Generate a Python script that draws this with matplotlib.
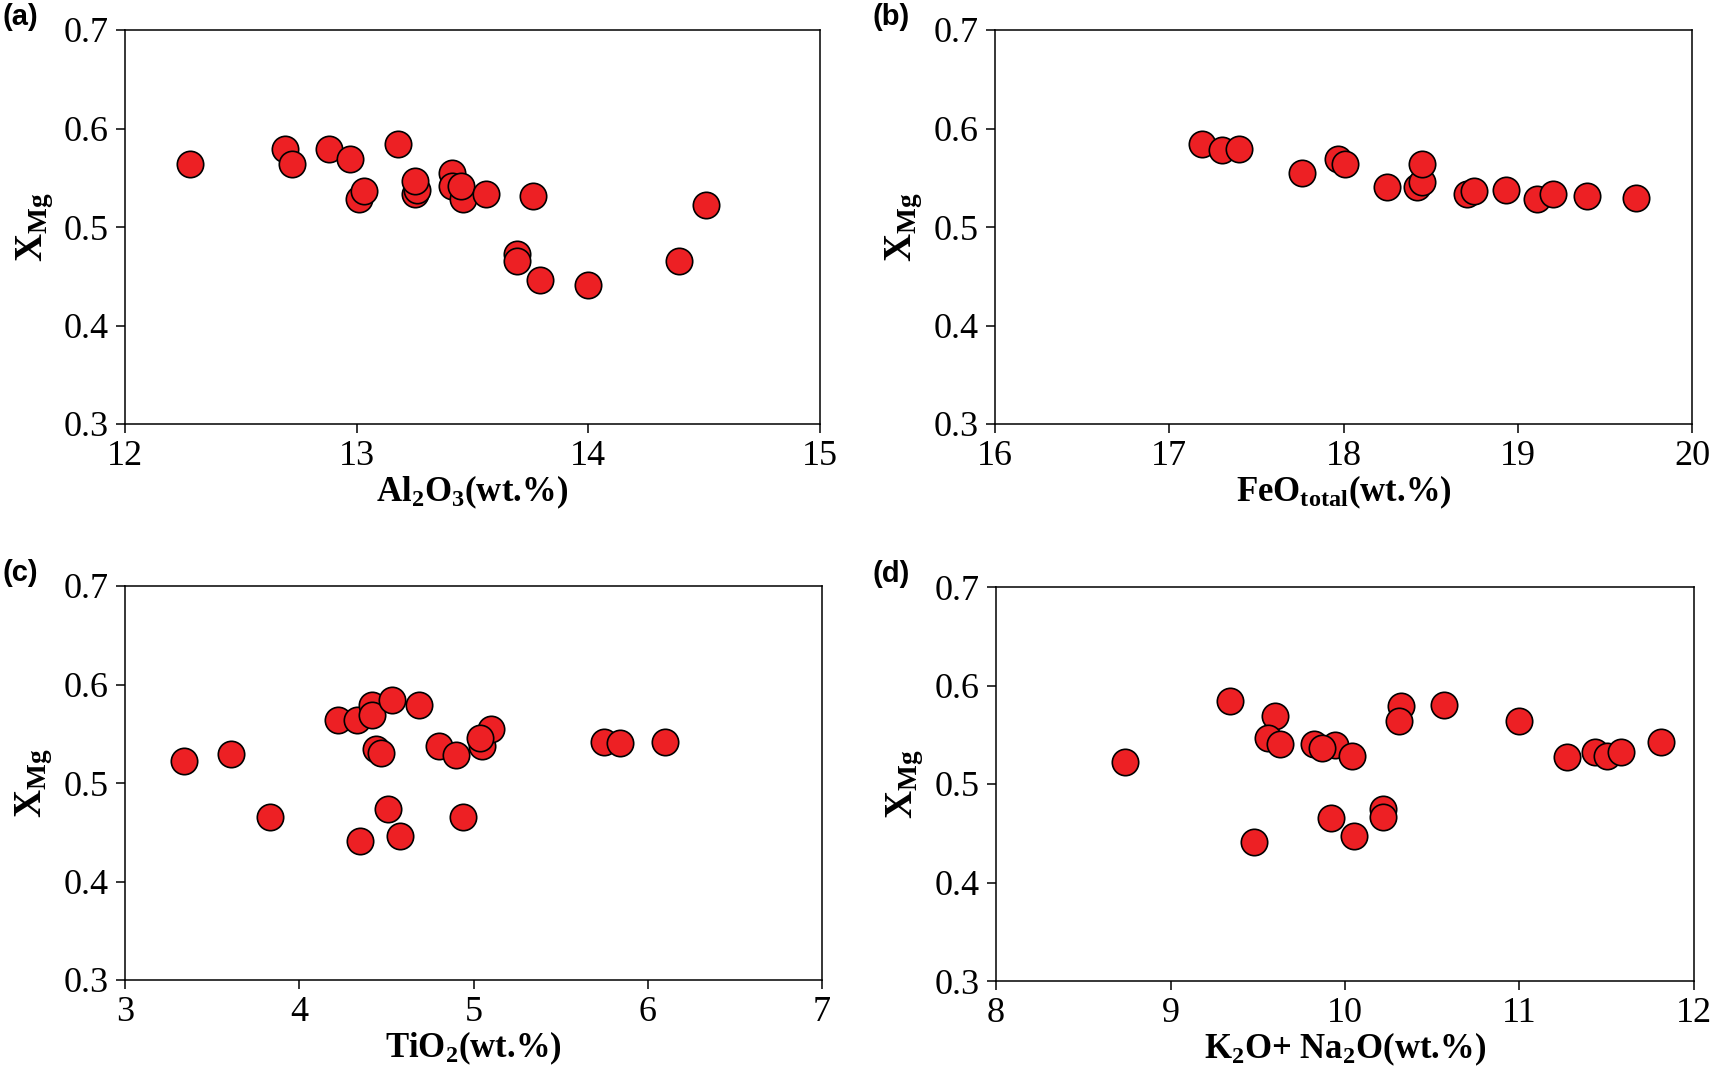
"""XMg versus major-oxide content, four scatter panels."""

import matplotlib

matplotlib.use("Agg")
import matplotlib.pyplot as plt

# --- Data ---
xmg_a = [0.564, 0.579, 0.564, 0.579, 0.569, 0.528, 0.537, 0.584, 0.533, 0.538,
         0.547, 0.555, 0.542, 0.528, 0.542, 0.533, 0.531, 0.473, 0.465, 0.446,
         0.441, 0.465, 0.522]
al2o3 = [12.28, 12.69, 12.72, 12.88, 12.97, 13.01, 13.03, 13.18, 13.25, 13.26,
         13.25, 13.41, 13.41, 13.46, 13.45, 13.56, 13.76, 13.69, 13.69, 13.79,
         14.00, 14.39, 14.51]

xmg_b = [0.584, 0.578, 0.579, 0.555, 0.569, 0.564, 0.541, 0.541, 0.546, 0.564,
         0.534, 0.537, 0.538, 0.528, 0.534, 0.531, 0.529]
feo_total = [17.19, 17.30, 17.40, 17.76, 17.97, 18.01, 18.25, 18.42, 18.45, 18.45,
             18.71, 18.75, 18.93, 19.11, 19.20, 19.40, 19.68]

xmg_c = [0.522, 0.529, 0.465, 0.564, 0.564, 0.579, 0.569, 0.584, 0.579, 0.535,
         0.530, 0.474, 0.441, 0.446, 0.538, 0.528, 0.465, 0.538, 0.555, 0.546,
         0.542, 0.541, 0.542]
tio2 = [3.34, 3.61, 3.83, 4.22, 4.33, 4.42, 4.42, 4.53, 4.69, 4.44,
        4.47, 4.51, 4.35, 4.58, 4.80, 4.90, 4.94, 5.05, 5.10, 5.04,
        5.75, 5.84, 6.10]

xmg_d = [0.522, 0.584, 0.569, 0.547, 0.541, 0.441, 0.541, 0.540, 0.537, 0.528,
         0.465, 0.447, 0.475, 0.466, 0.579, 0.564, 0.580, 0.564, 0.527, 0.532,
         0.528, 0.532, 0.543]
alkalis = [8.74, 9.34, 9.60, 9.56, 9.63, 9.48, 9.82, 9.94, 9.87, 10.04,
           9.92, 10.05, 10.22, 10.22, 10.32, 10.31, 10.57, 11.00, 11.27, 11.43,
           11.50, 11.58, 11.81]

x_limits = [(12, 15), (16, 20), (3, 7), (8, 12)]
x_labels = [
    "Al$_2$O$_3$(wt.%)",
    "FeO$_{total}$(wt.%)",
    "TiO$_2$(wt.%)",
    "K$_2$O+ Na$_2$O(wt.%)",
]
y_ticks = [0.3, 0.4, 0.5, 0.6, 0.7]
y_tick_labels = ["0.3", "0.4", "0.5", "0.6", "0.7"]
panel_tags = ["(a)", "(b)", "(c)", "(d)"]

plt.rcParams["font.family"] = ["Liberation Serif", "DejaVu Serif"]
plt.rcParams["mathtext.fontset"] = "custom"
plt.rcParams["mathtext.default"] = "regular"

W, H = 1712, 1081
fig = plt.figure(figsize=(W / 100, H / 100), dpi=100)

# axes boxes in pixels: left, top, right, bottom
boxes = [
    (125, 30, 820, 424),
    (995, 30, 1692, 424),
    (125, 586, 822, 980),
    (996, 587, 1694, 981),
]

series = [(al2o3, xmg_a), (feo_total, xmg_b), (tio2, xmg_c), (alkalis, xmg_d)]

for i, (l, t, r, b) in enumerate(boxes):
    ax = fig.add_axes([l / W, 1 - b / H, (r - l) / W, (b - t) / H])
    xs, ys = series[i]
    ax.plot(xs, ys, "o", ms=19, mfc="#ED2024", mec="black", mew=1.2,
            linestyle="none", clip_on=False)

    lo, hi = x_limits[i]
    ax.set_xlim(lo, hi)
    ax.set_ylim(0.3, 0.7)
    ax.set_xticks(range(lo, hi + 1))
    ax.set_yticks(y_ticks)
    ax.set_yticklabels(y_tick_labels)
    ax.tick_params(direction="out", length=6.5, width=1.1, labelsize=26,
                   top=False, right=False)
    ax.tick_params(axis="y", pad=5)
    ax.tick_params(axis="x", pad=5)
    for sp in ax.spines.values():
        sp.set_linewidth(1.1)

    ax.set_xlabel(x_labels[i], fontsize=25, fontweight="bold")
    ax.xaxis.set_label_coords(0.5, -0.125)
    ax.set_ylabel("X$_{Mg}$", fontsize=28, fontweight="bold")
    ax.yaxis.set_label_coords(-0.10, 0.5)

    fig.text((l - 123) / W, 1 - (t - 13) / H, panel_tags[i],
             family=["Liberation Sans", "DejaVu Sans"], fontsize=21,
             fontweight="bold", ha="left", va="center")

fig.savefig("out.png", dpi=100)
